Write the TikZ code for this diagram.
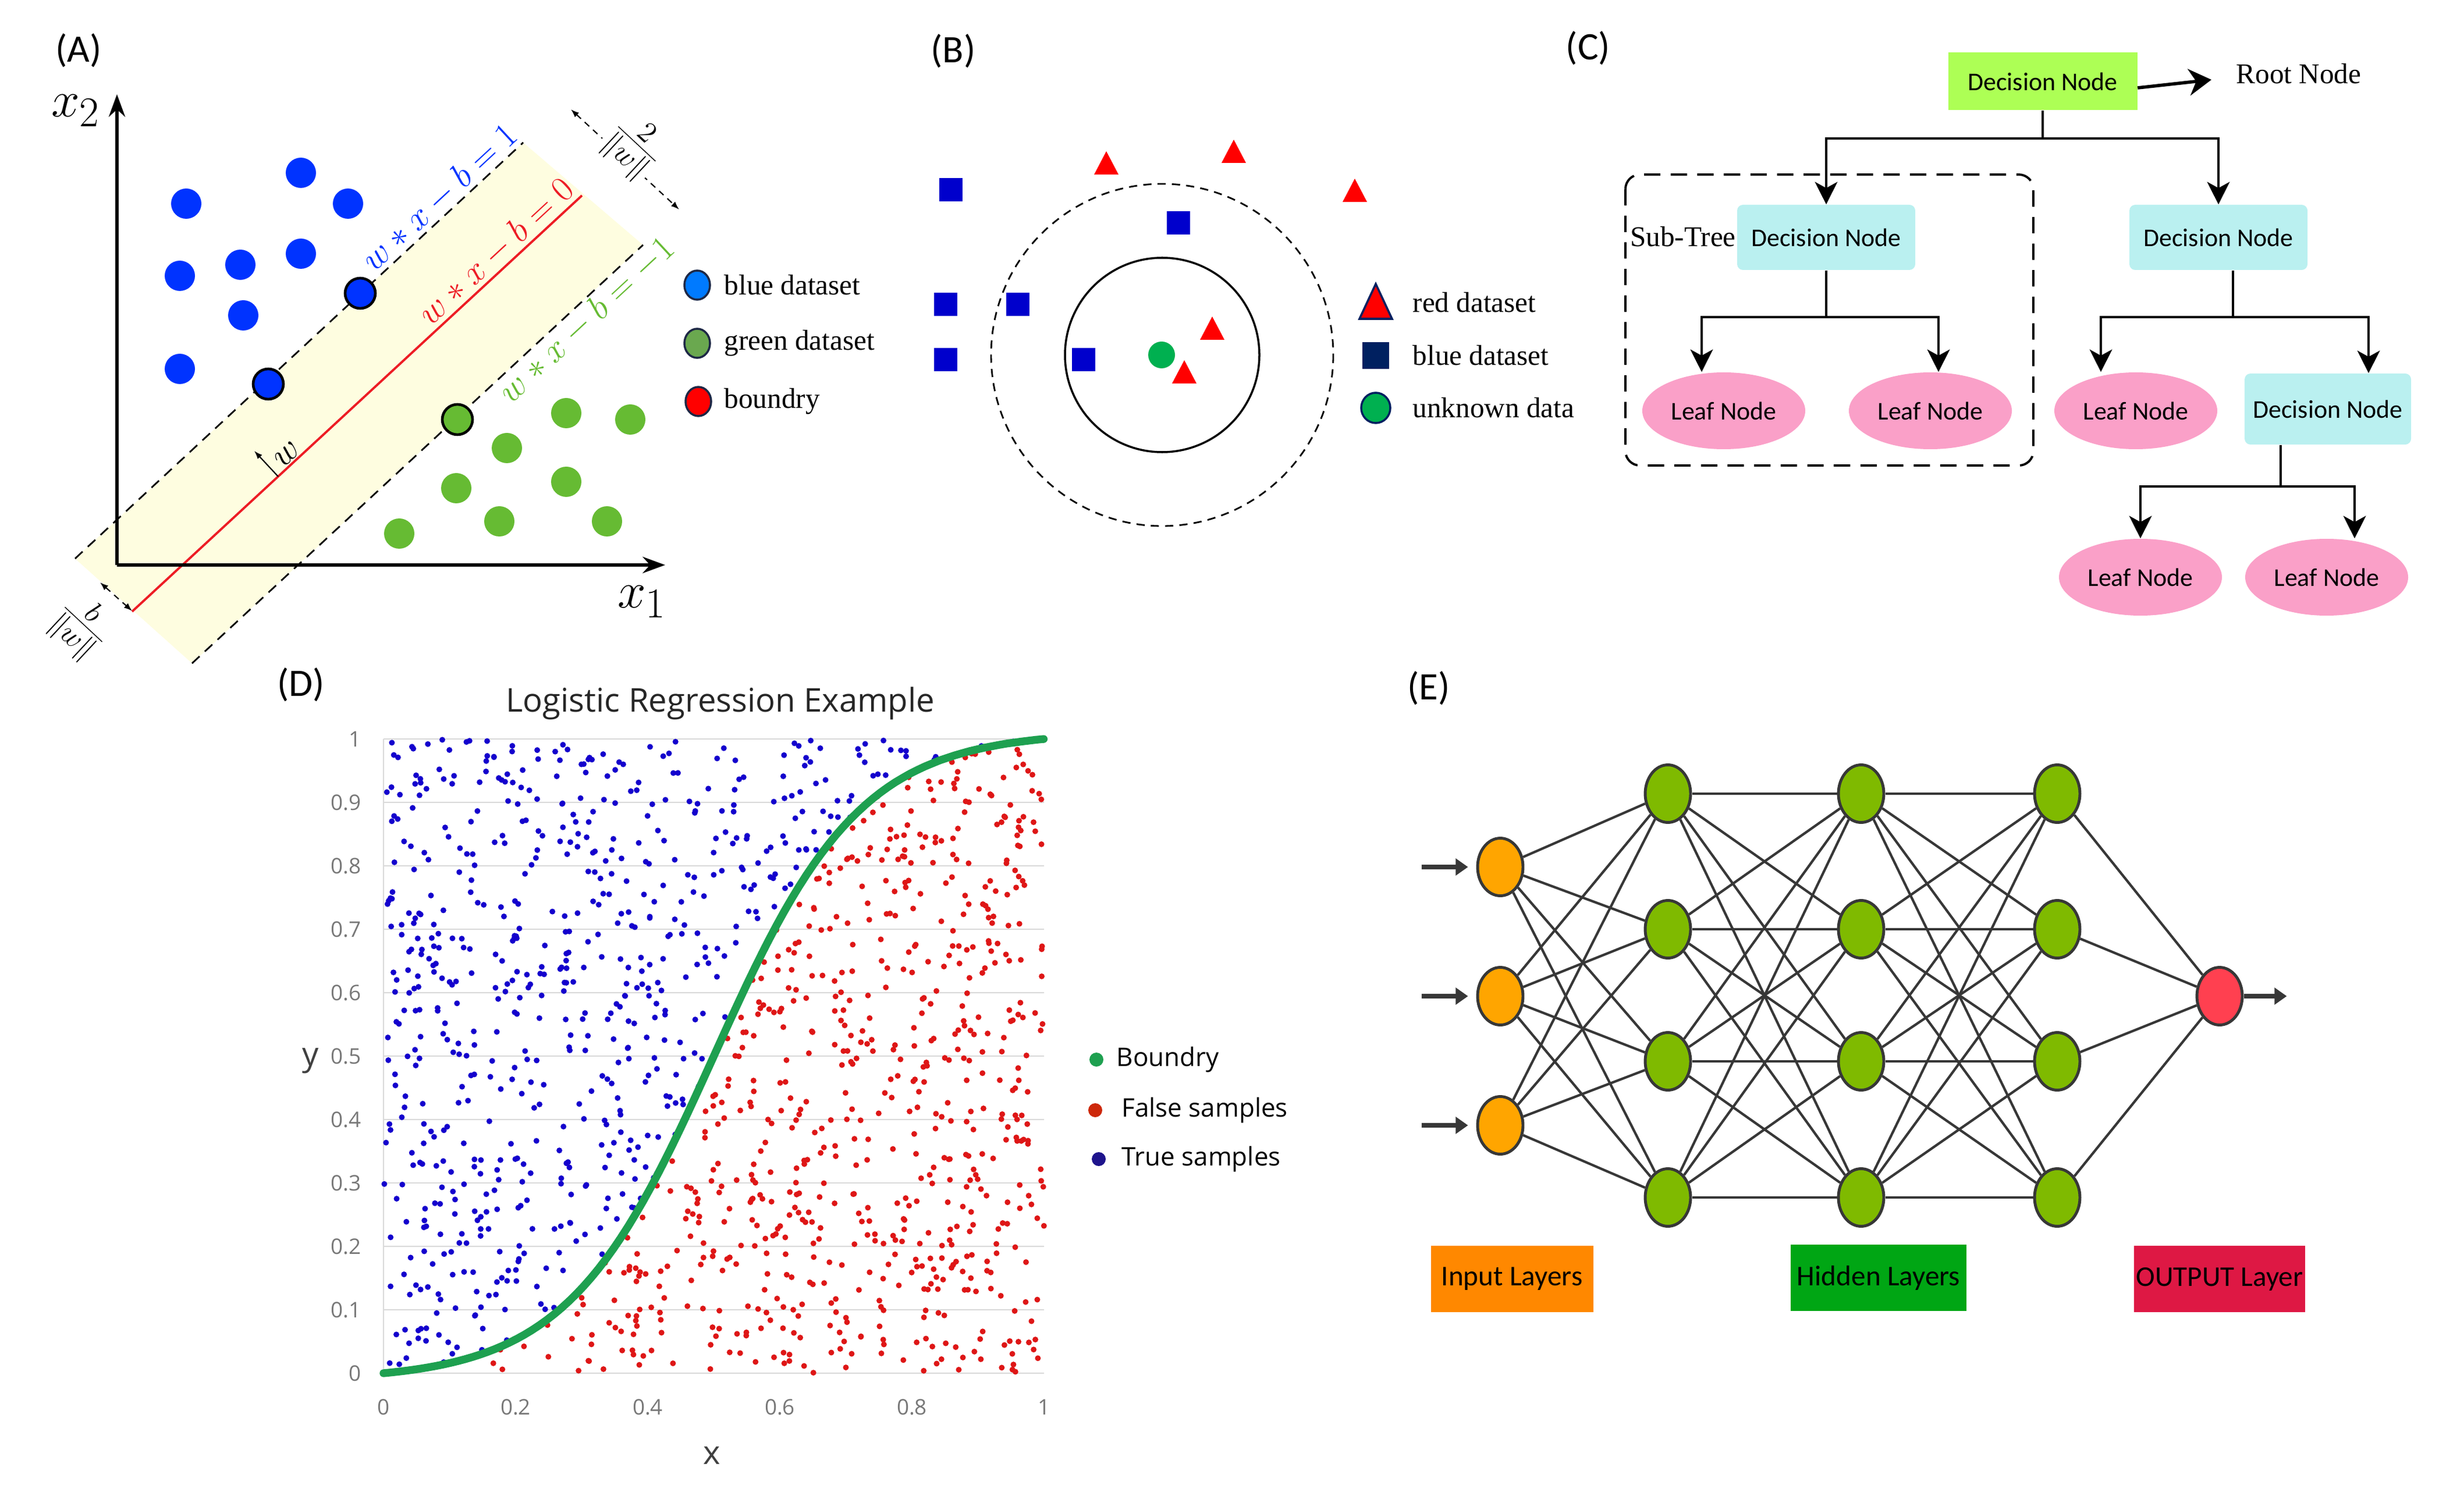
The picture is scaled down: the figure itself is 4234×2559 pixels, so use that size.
\documentclass[tikz,border=0pt]{standalone}
\usepackage{fontspec}
\setmainfont{Liberation Serif}
\newfontfamily\treefont{Carlito}
\newfontfamily\plotfont{Open Sans}
\usetikzlibrary{arrows.meta,shapes.geometric,calc,positioning}
\newcommand\setfs[1]{\fontsize{#1}{#1}\selectfont}

\definecolor{bandcol}{RGB}{254,253,224}
\definecolor{svmblue}{RGB}{0,51,255}
\definecolor{svmgreen}{RGB}{102,187,51}
\definecolor{svmred}{RGB}{237,28,36}
\definecolor{legblue}{RGB}{0,122,255}
\definecolor{leggreen}{RGB}{106,168,79}
\definecolor{legborder}{RGB}{30,40,70}
\definecolor{knnblue}{RGB}{0,0,204}
\definecolor{knnnavy}{RGB}{0,32,96}
\definecolor{knnred}{RGB}{255,0,0}
\definecolor{knngreen}{RGB}{0,176,80}
\definecolor{rootcol}{RGB}{173,255,85}
\definecolor{deccol}{RGB}{186,240,240}
\definecolor{leafcol}{RGB}{250,160,200}
\definecolor{gridcol}{RGB}{217,217,217}
\definecolor{tickcol}{RGB}{120,120,120}
\definecolor{truecol}{RGB}{20,0,205}
\definecolor{falsecol}{RGB}{222,22,22}
\definecolor{curvecol}{RGB}{30,160,80}
\definecolor{truekey}{RGB}{30,20,140}
\definecolor{falsekey}{RGB}{205,40,10}
\definecolor{edgecol}{RGB}{55,55,55}
\definecolor{inputcol}{RGB}{255,165,0}
\definecolor{hiddencol}{RGB}{127,186,0}
\definecolor{outcol}{RGB}{255,64,80}
\definecolor{inlblcol}{RGB}{255,136,0}
\definecolor{hidlblcol}{RGB}{0,166,20}
\definecolor{outlblcol}{RGB}{222,24,68}

\begin{document}
\begin{tikzpicture}[x=0.1mm,y=-0.1mm,>=Stealth,
  panel/.style={font=\treefont\setfs{19pt}},
  svmaxis/.style={line width=1.5pt,-{Stealth[length=11pt,width=8pt]}},
  margin/.style={dash pattern=on 5pt off 3.5pt,line width=0.8pt},
  dimarrow/.style={dash pattern=on 3pt off 2.5pt,line width=0.6pt,{Latex[length=4pt]}-{Latex[length=4pt]}},
  eqlabel/.style={sloped,inner sep=1pt,font=\setfs{17.28pt}},
  legtext/.style={anchor=west,inner sep=0pt,font=\setfs{14pt}},
  dec/.style={rectangle,fill=deccol,rounded corners=1mm,minimum width=30.6mm,minimum height=11.2mm,font=\treefont\setfs{12.5pt}},
  rootdec/.style={dec,fill=rootcol,rounded corners=0pt,minimum width=32.5mm,minimum height=9.9mm},
  leaf/.style={ellipse,fill=leafcol,minimum width=28mm,minimum height=13.2mm,inner sep=0pt,font=\treefont\setfs{12.5pt}},
  branch/.style={line width=1.1pt,-{Stealth[length=11pt,width=11pt,inset=3pt]}},
  ticklab/.style={text=tickcol,inner sep=1pt,font=\plotfont\setfs{10.5pt}},
  keytext/.style={anchor=west,inner sep=0pt,font=\plotfont\setfs{12.5pt}},
  neuron/.style={ellipse,draw=edgecol,line width=1.4pt,minimum width=7.8mm,minimum height=9.9mm,inner sep=0pt},
  nnedge/.style={draw=edgecol,line width=1.2pt},
  inarrow/.style={draw=edgecol,line width=2.2pt,-{Triangle[length=6pt,width=8pt]}},
  layerbox/.style={rectangle,minimum height=11.4mm,inner sep=0pt,font=\treefont\setfs{14pt}}]

\useasboundingbox (0,0) rectangle (4234,2559);

% panel letters
\node[panel] (labA) at (135,87) {(A)};
\node[panel] (labB) at (1638,88) {(B)};
\node[panel] (labC) at (2729,83) {(C)};
\node[panel] (labD) at (517,1177) {(D)};
\node[panel] (labE) at (2455,1183) {(E)};

% (A) support vector machine
\fill[bandcol] (129,960) -- (899,245) -- (1105,421) -- (330,1140) -- cycle;
\draw[margin] (129,960) -- (899,245)
  node[eqlabel,above,pos=0.839,text=svmblue] (eqplus) {$w*x-b=1$};
\draw[margin] (330,1140) -- (1105,421)
  node[eqlabel,below,pos=0.85,text=svmgreen] (eqminus) {$w*x-b=-1$};
\draw[svmred,line width=1.1pt] (227,1051) -- (1000,336)
  node[eqlabel,above,pos=0.835,text=svmred] (eqzero) {$w*x-b=0$};
\draw[svmaxis] (201,971) -- (201,162);
\draw[svmaxis] (201,971) -- (1143,971);
\node[font=\setfs{24.88pt}] (xtwo) at (130,190) {$x_2$};
\node[font=\setfs{24.88pt}] (xone) at (1103,1034) {$x_1$};

\foreach \p in {(320,350),(517,297),(598,350),(309,474),(413,455),(517,436),(418,542),(309,634)}
  \fill[svmblue] \p circle (26);
\foreach \p in {(619,504),(461,660)}
  \filldraw[fill=svmblue,draw=black,line width=1.3pt] \p circle (26);
\filldraw[fill=svmgreen,draw=black,line width=1.3pt] (786,721) circle (26);
\foreach \p in {(973,710),(1083,721),(871,770),(784,839),(973,828),(858,896),(1043,896),(686,917)}
  \fill[svmgreen] \p circle (26);

\draw[-{Latex[length=4pt]},line width=0.6pt] (478,819) -- (437,775);
\node[rotate=43,inner sep=0pt,font=\setfs{17.28pt}] (wvec) at (494,781) {$w$};
\draw[dimarrow] (981,188) -- (1167,360);
\node[rotate=-43,fill=white,inner sep=0.5pt,font=\setfs{20.74pt}] (margfrac) at (1090,252) {$\frac{2}{\|w\|}$};
\draw[dimarrow] (172,1001) -- (227,1050);
\node[rotate=-43,inner sep=0.5pt,font=\setfs{20.74pt}] (offfrac) at (140,1077) {$\frac{b}{\|w\|}$};

\filldraw[fill=legblue,draw=legborder,line width=1pt] (1198,490) ellipse [x radius=22,y radius=25];
\filldraw[fill=leggreen,draw=legborder,line width=1pt] (1198,590) ellipse [x radius=22,y radius=25];
\filldraw[fill=knnred,draw=legborder,line width=1pt] (1200,690) ellipse [x radius=22,y radius=25];
\node[legtext] (keyblue) at (1244,490) {blue dataset};
\node[legtext] (keygreen) at (1244,590) {green dataset};
\node[legtext] (keybound) at (1244,690) {boundry};

% (B) nearest neighbours
\draw[dash pattern=on 4pt off 3pt,line width=0.8pt] (1997,610) circle (294);
\draw[line width=1pt] (1997,610) circle (167);
\foreach \x/\y in {1634/326,2025/383,1625/523,1749/523,1625/618,1862/618}
  \fill[knnblue] (\x-20,\y-20) rectangle (\x+20,\y+20);
\foreach \x/\y in {1901/281,2120/261,2328/328,2083/565,2035/640}
  \fill[knnred] (\x-21,\y+19) -- (\x+21,\y+19) -- (\x,\y-21) -- cycle;
\fill[knngreen] (1996,610) circle (23);

\filldraw[fill=knnred,draw=knnnavy,line width=1pt] (2336,548) -- (2392,548) -- (2364,488) -- cycle;
\fill[knnnavy] (2341,588) rectangle (2387,634);
\filldraw[fill=knngreen,draw=knnnavy,line width=1pt] (2364,701) ellipse [x radius=25,y radius=26];
\node[legtext] (keyred) at (2427,520) {red dataset};
\node[legtext] (keysq) at (2427,611) {blue dataset};
\node[legtext] (keyunk) at (2427,701) {unknown data};

% (C) decision tree
\draw[dash pattern=on 8pt off 5pt,line width=1.1pt,rounded corners=2.5mm] (2793,300) rectangle (3494,800);
\node[rootdec] (root) at (3510,140) {Decision Node};
\node[anchor=west,inner sep=0pt,font=\setfs{14pt}] (rootlbl) at (3842,127) {Root Node};
\node[dec] (dl) at (3138,408) {Decision Node};
\node[dec] (dr) at (3812,408) {Decision Node};
\node[inner sep=0pt,font=\setfs{14pt}] (subtree) at (2892,407) {Sub-Tree};
\node[leaf] (ll1) at (2962,706) {Leaf Node};
\node[leaf] (ll2) at (3317,706) {Leaf Node};
\node[leaf] (lr) at (3670,706) {Leaf Node};
\node[dec,minimum width=28.6mm,minimum height=12.2mm] (dbr) at (4000,703) {Decision Node};
\node[leaf] (lb1) at (3678,992) {Leaf Node};
\node[leaf] (lb2) at (3998,992) {Leaf Node};

\draw[line width=1.6pt,-{Stealth[length=11pt,width=13pt,inset=3.5pt]}] ($(root.east)+(0,11)$) -- ($(rootlbl.west)+(-42,10)$);
\draw[branch] (root.south) -- ++(0,48) -| (dl.north);
\draw[branch] (root.south) -- ++(0,48) -| (dr.north);
\draw[branch] (dl.south) -- ++(0,80) -| ($(ll1.north)+(-38,0)$);
\draw[branch] (dl.south) -- ++(0,80) -| ($(ll2.north)+(14,0)$);
\draw[branch] ($(dr.south)+(25,0)$) -- ++(0,80) -| ($(lr.north)+(-60,0)$);
\draw[branch] ($(dr.south)+(25,0)$) -- ++(0,80) -| ($(dbr.north)+(70,0)$);
\draw[branch] ($(dbr.south)+(-81,0)$) -- ++(0,71) -| (lb1.north);
\draw[branch] ($(dbr.south)+(-81,0)$) -- ++(0,71) -| ($(lb2.north)+(48,0)$);

% (D) logistic regression
\def\xa{659}
\def\xw{1135}
\def\ya{2360}
\def\yh{1090}
\foreach \t in {0,...,10}
  \draw[gridcol,line width=0.6pt] (\xa,\ya-\t*\yh/10) -- (\xa+\xw,\ya-\t*\yh/10);
\draw[gridcol,line width=0.6pt] (\xa,\ya) -- (\xa,\ya-\yh);
\foreach \t/\lab in {0/0,1/0.1,2/0.2,3/0.3,4/0.4,5/0.5,6/0.6,7/0.7,8/0.8,9/0.9,10/1}
  \node[ticklab,anchor=east] (ytick\t) at (625,\ya-\t*\yh/10) {\lab};
\foreach \t/\lab in {0/0,2/0.2,4/0.4,6/0.6,8/0.8,10/1}
  \node[ticklab] (xtick\t) at (\xa+\t*\xw/10,2418) {\lab};

\pgfmathsetseed{12}
\foreach \k in {1,...,1350}{
  \pgfmathsetmacro\px{rnd}
  \pgfmathsetmacro\py{rnd}
  \pgfmathsetmacro\bd{(1/(1+exp(-9*(\px-0.5)))-0.010987)/0.978026}
  \ifdim\py pt>\bd pt\relax
    \fill[truecol] (\xa+\px*\xw,\ya-\py*\yh) circle (5);
  \else
    \fill[falsecol] (\xa+\px*\xw,\ya-\py*\yh) circle (5);
  \fi
}
\draw[curvecol,line width=3.8pt,line cap=round] plot[domain=0:1,samples=90]
  ({\xa+\xw*\x},{\ya-\yh*((1/(1+exp(-9*(\x-0.5)))-0.010987)/0.978026)});

\node[font=\plotfont\setfs{16pt},text=black!85] (ptitle) at (1238,1209) {Logistic Regression Example};
\node[font=\plotfont\setfs{16pt},text=black!75] (ylab) at (534,1823) {y};
\node[font=\plotfont\setfs{16pt},text=black!75] (xlab) at (1223,2501) {x};
\fill[curvecol] (1884,1821) circle (12);
\fill[falsekey] (1882,1908) circle (12);
\fill[truekey] (1888,1992) circle (12);
\node[keytext] (keycurve) at (1918,1821) {Boundry};
\node[keytext] (keyfalse) at (1927,1908) {False samples};
\node[keytext] (keytrue) at (1927,1992) {True samples};

% (E) neural network
\foreach \n/\y in {1/1490,2/1712,3/1934}
  \node[neuron,fill=inputcol] (i\n) at (2578,\y) {};
\foreach \l/\x in {a/2866,b/3198,c/3535}
  \foreach \n/\y in {1/1364,2/1597,3/1824,4/2058}
    \node[neuron,fill=hiddencol] (h\l\n) at (\x,\y) {};
\node[neuron,fill=outcol] (out) at (3814,1712) {};

\foreach \a in {1,2,3}
  \foreach \b in {1,...,4}
    \draw[nnedge] (i\a) -- (ha\b);
\foreach \a in {1,...,4}
  \foreach \b in {1,...,4}{
    \draw[nnedge] (ha\a) -- (hb\b);
    \draw[nnedge] (hb\a) -- (hc\b);
  }
\foreach \a in {1,...,4}
  \draw[nnedge] (hc\a) -- (out);
\foreach \n in {1,2,3}
  \draw[inarrow] ($(i\n.west)+(-94,0)$) -- ($(i\n.west)+(-14,0)$);
\draw[inarrow] (out.east) -- ($(out.east)+(74,0)$);

\node[layerbox,fill=inlblcol,minimum width=27.9mm] (inlbl) at (2598,2198) {Input Layers};
\node[layerbox,fill=hidlblcol,minimum width=30.2mm] (hidlbl) at (3228,2196) {Hidden Layers};
\node[layerbox,fill=outlblcol,minimum width=29.4mm] (outlbl) at (3814,2198) {OUTPUT Layer};

\end{tikzpicture}
\end{document}
